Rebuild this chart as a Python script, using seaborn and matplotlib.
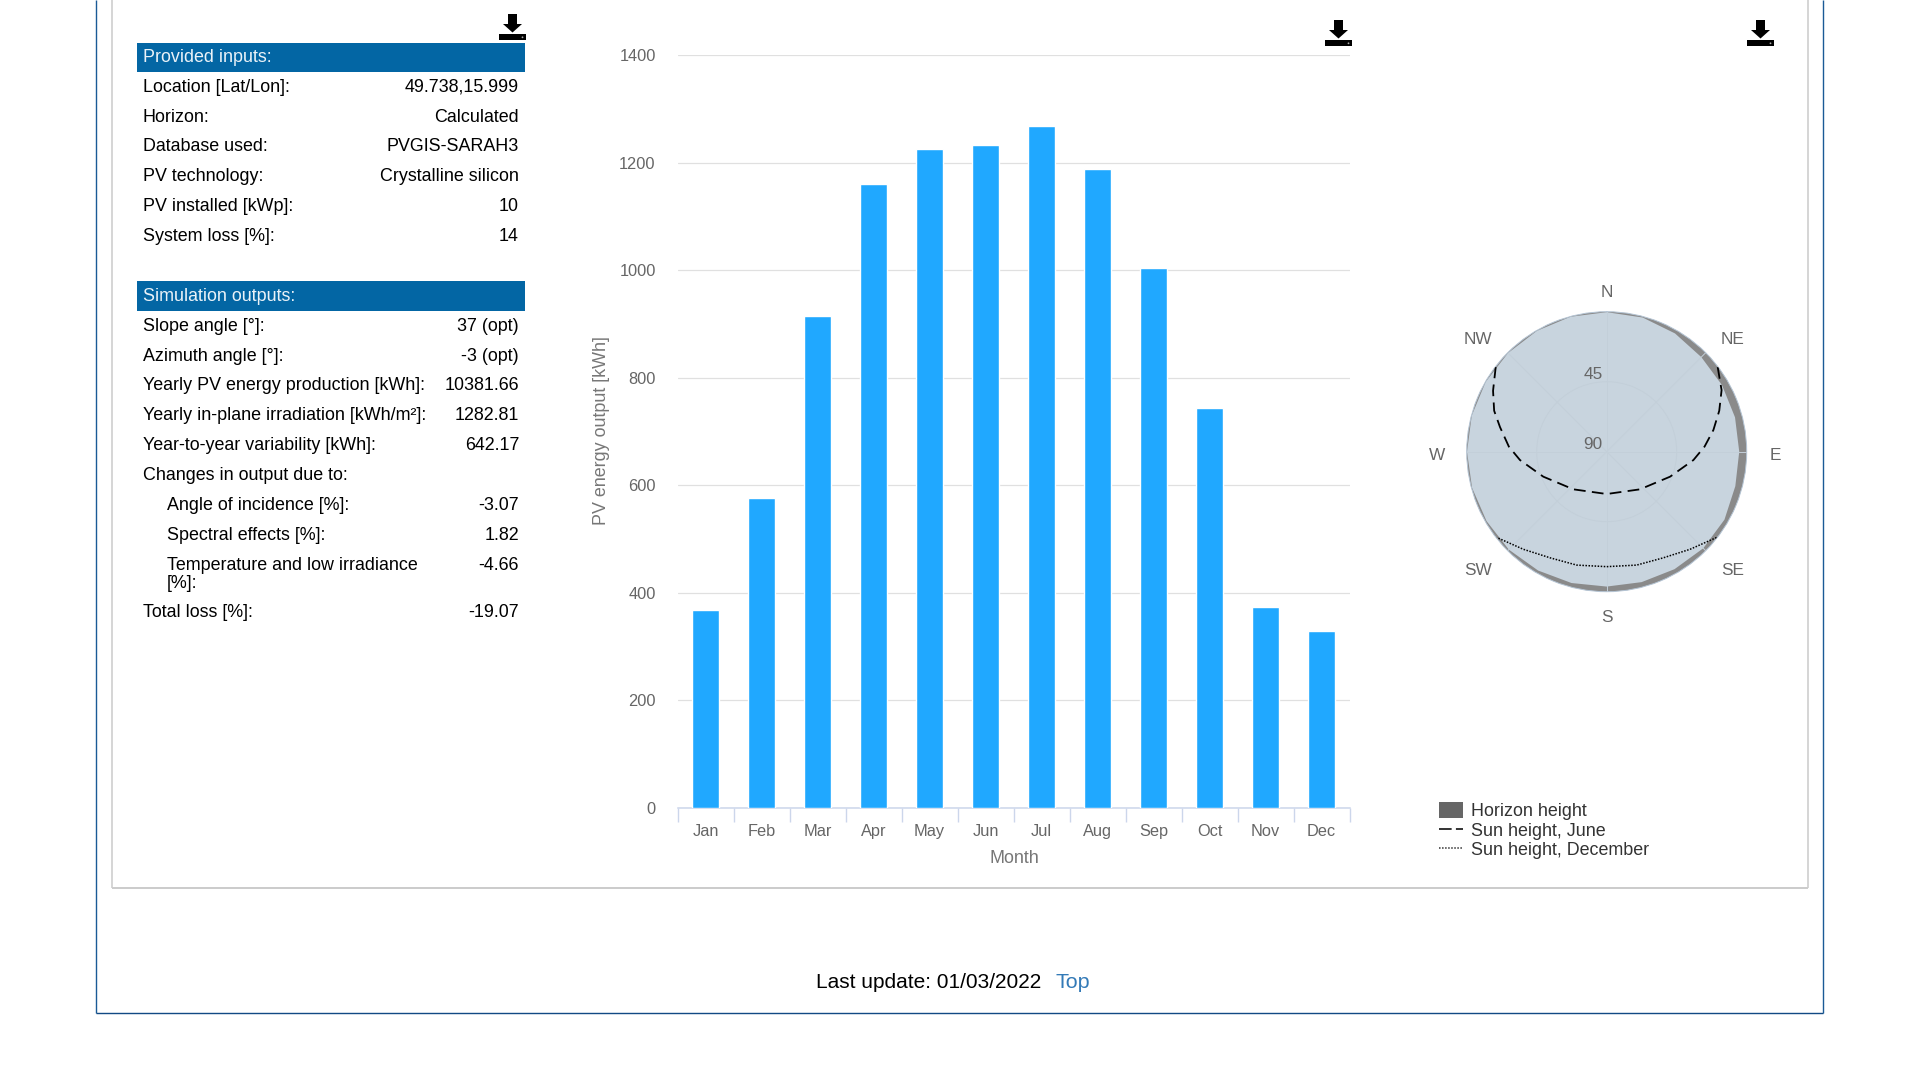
import numpy as np
import pandas as pd
import matplotlib
matplotlib.use("Agg")
import matplotlib.pyplot as plt
from matplotlib.lines import Line2D
from matplotlib.patches import Rectangle, Polygon, Circle, Patch
from matplotlib.transforms import Affine2D
import seaborn as sns

# ---------- data ----------
months = ["Jan", "Feb", "Mar", "Apr", "May", "Jun", "Jul", "Aug", "Sep", "Oct", "Nov", "Dec"]
output_kwh = [369, 576, 915, 1160, 1225, 1233, 1268, 1188, 1004, 744, 374, 330]
y_ticks = [0, 200, 400, 600, 800, 1000, 1200, 1400]

inputs_labels = ["Location [Lat/Lon]:", "Horizon:", "Database used:", "PV technology:",
                 "PV installed [kWp]:", "System loss [%]:"]
inputs_values = ["49.738,15.999", "Calculated", "PVGIS-SARAH3", "Crystalline silicon", "10", "14"]
inputs_y = [86, 116, 145, 175, 205, 235]

outputs_labels = ["Slope angle [°]:", "Azimuth angle [°]:", "Yearly PV energy production [kWh]:",
                  "Yearly in-plane irradiation [kWh/m²]:", "Year-to-year variability [kWh]:",
                  "Changes in output due to:", "Angle of incidence [%]:", "Spectral effects [%]:",
                  "Temperature and low irradiance\n[%]:", "Total loss [%]:"]
outputs_values = ["37 (opt)", "-3 (opt)", "10381.66", "1282.81", "642.17", "", "-3.07", "1.82", "-4.66", "-19.07"]
outputs_y = [325, 355, 384, 414, 444, 474, 504, 534, 564, 611]
outputs_indent = [0, 0, 0, 0, 0, 0, 1, 1, 1, 0]

horizon_az = [0, 15, 30, 45, 60, 75, 90, 105, 120, 135, 150, 165, 180, 195, 210, 225, 240, 255, 270, 285, 300, 315, 330, 345, 360]
horizon_h = [0.3, 0.7, 2.2, 4.0, 4.4, 4.6, 4.8, 4.4, 2.6, 2.2, 2.8, 3.2, 3.3, 2.6, 1.8, 1.0, 0.8, 0.4, 0.2, 0.2, 0.2, 0.3, 0.3, 0.2, 0.3]

june_az = [52.7, 61.8, 70, 78.5, 87, 95.5, 111.5, 138.5, 180, 221.5, 248.5, 264.5, 273, 283, 290, 298.2, 307.3]
june_h = [0.3, 6.2, 13, 20, 27, 34, 46.2, 57.7, 62.8, 57.7, 46.2, 34, 27, 19.6, 13, 7.1, 0.3]

dec_az = [128, 139.5, 152, 165.2, 180, 194.8, 208, 220.5, 232]
dec_h = [0.4, 7.5, 12.7, 14.6, 16.1, 14.6, 12.7, 7.5, 0.4]

compass_labels = ["N", "NE", "E", "SE", "S", "SW", "W", "NW"]
compass_az = [0, 45, 90, 135, 180, 225, 270, 315]
compass_px = [(1607, 291), (1733, 338), (1775, 454), (1733, 569), (1607, 616), (1478, 569), (1437, 454), (1478, 338)]
radial_ticks = [45, 90]

legend_labels = ["Horizon height", "Sun height, June", "Sun height, December"]

# ---------- set-up ----------
W, H = 1920, 1080
sns.set_theme(style="white")
plt.rcParams["font.family"] = ["Liberation Sans", "DejaVu Sans"]
fig = plt.figure(figsize=(W / 100, H / 100), dpi=100, facecolor="white")
PX = Affine2D().scale(1 / W, -1 / H).translate(0, 1) + fig.transFigure


def text(x, y, s, size=12.0, color="black", ha="left", **kw):
    return fig.text(x / W, 1 - (y + 1.5) / H, s, fontsize=size, color=color, ha=ha, va="center", **kw)


def hline(x0, x1, y, color, lw):
    fig.add_artist(Line2D([x0, x1], [y, y], transform=PX, color=color, lw=lw * 0.72, solid_capstyle="butt"))


def vline(x, y0, y1, color, lw):
    fig.add_artist(Line2D([x, x], [y0, y1], transform=PX, color=color, lw=lw * 0.72, solid_capstyle="butt"))


def rect(x0, y0, x1, y1, color):
    fig.add_artist(Rectangle((x0, y0), x1 - x0, y1 - y0, transform=PX, facecolor=color, edgecolor="none"))


def download_icon(x0, y0):
    rect(x0, y0 + 20, x0 + 27, y0 + 26, "black")
    rect(x0 + 9, y0, x0 + 18, y0 + 10, "black")
    fig.add_artist(Polygon([(x0 + 4, y0 + 10), (x0 + 23, y0 + 10), (x0 + 13.5, y0 + 18.5)],
                           closed=True, transform=PX, facecolor="black", edgecolor="none"))
    fig.add_artist(Circle((x0 + 23.5, y0 + 23.3), 0.9, transform=PX, facecolor="#aaaaaa", edgecolor="none"))


# page frame
vline(96, 0, 1013, "#1a5a96", 1.4)
vline(1823, 0, 1013, "#1a5a96", 1.4)
hline(96, 1823, 1013, "#124a84", 1.4)
vline(112, 0, 888, "#cccccc", 1.6)
vline(1808, 0, 888, "#cccccc", 1.6)
hline(112, 1808, 888, "#cccccc", 2)

# tables
HEAD = "#0366a4"
TS = 12.9
rect(137, 43, 525, 72, HEAD)
rect(137, 281, 525, 311, HEAD)
text(143, 56, "Provided inputs:", color="#eaf2f8", size=TS)
text(143, 295, "Simulation outputs:", color="#eaf2f8", size=TS)
for lab, val, y in zip(inputs_labels, inputs_values, inputs_y):
    text(143, y, lab, size=TS)
    text(519, y, val, size=TS, ha="right")
for lab, val, y, ind in zip(outputs_labels, outputs_values, outputs_y, outputs_indent):
    if "\n" in lab:
        first, second = lab.split("\n")
        text(167, y, first, size=TS)
        text(167, y + 18, second, size=TS)
    else:
        text(167 if ind else 143, y, lab, size=TS)
    if val:
        text(519, y, val, size=TS, ha="right")

download_icon(499, 14)
download_icon(1325, 20)
download_icon(1747, 20)

# bar chart
df = pd.DataFrame({"Month": months, "Output": output_kwh})
ax = fig.add_axes([677.5 / W, 1 - 808 / H, 672 / W, 753 / H])
sns.barplot(data=df, x="Month", y="Output", color="#20a8ff", saturation=1, width=0.49, ax=ax, zorder=3)
ax.set_xlim(-0.5, 11.5)
ax.set_ylim(0, 1400)
ax.set_yticks(y_ticks)
ax.yaxis.grid(True, color="#e0e0e0", lw=0.9)
ax.set_axisbelow(True)
for s in ["top", "left", "right"]:
    ax.spines[s].set_visible(False)
ax.spines["bottom"].set_color("#ccd6eb")
ax.spines["bottom"].set_linewidth(1.1)
ax.tick_params(axis="y", length=0, pad=15.7, labelsize=11.8, labelcolor="#666666")
ax.tick_params(axis="x", which="major", length=0, pad=11.8, labelsize=11.8, labelcolor="#666666")
ax.set_xticks(np.arange(-0.5, 12, 1), minor=True)
ax.tick_params(axis="x", which="minor", bottom=True, length=10, width=1, color="#ccd6eb")
ax.set_xlabel("")
ax.set_ylabel("")
text(1014, 857, "Month", size=12.9, color="#777777", ha="center")
text(601, 429, "PV energy output [kWh]", size=12.9, color="#777777", ha="center", rotation=90, rotation_mode="anchor")

# polar chart
pax = fig.add_axes([1466.7 / W, 1 - 591.7 / H, 280 / W, 280 / H], projection="polar")
pax.set_theta_zero_location("N")
pax.set_theta_direction(-1)
pax.set_facecolor("#8a8a8a")
th = np.deg2rad(horizon_az)
pax.fill(th, horizon_h, facecolor="#c8d4de", edgecolor="none", zorder=1)
pax.plot(np.deg2rad(june_az), june_h, color="black", lw=1.3, dashes=(6.5, 3.5), zorder=4)
pax.plot(np.deg2rad(dec_az), dec_h, color="black", lw=1.1, dashes=(1, 1), zorder=4)
pax.set_ylim(90, 0)
pax.set_yticks(radial_ticks)
pax.set_yticklabels([])
pax.set_xticks(np.deg2rad(compass_az))
pax.set_xticklabels([])
pax.grid(True, color="#c3cfd9", lw=0.7, zorder=2)
pax.set_axisbelow(False)
pax.spines["polar"].set_color("#b4c4d4")
pax.spines["polar"].set_linewidth(0.7)
for lab, (x, y) in zip(compass_labels, compass_px):
    text(x, y, lab, size=12.4, color="#666666", ha="center")
for r in radial_ticks:
    text(1593, 451.7 - (90 - r) * 140 / 90 - 9, str(r), size=12.4, color="#666666", ha="center")

# legend
handles = [Patch(facecolor="#666666", edgecolor="none"),
           Line2D([], [], color="#333333", lw=1.4, dashes=(6.5, 2.2)),
           Line2D([], [], color="#333333", lw=1.1, dashes=(1, 1))]
fig.legend(handles, legend_labels, loc="upper left", bbox_to_anchor=(1439 / W, 1 - 802 / H),
           frameon=False, fontsize=12.9, labelcolor="#333333", handlelength=1.35, handleheight=1.0,
           handletextpad=0.42, labelspacing=0.08, borderpad=0, borderaxespad=0)

# footer
text(816, 981, "Last update: 01/03/2022", size=15)
text(1056, 981, "Top", size=15.4, color="#337ab7")

fig.savefig("out.png", dpi=100)
